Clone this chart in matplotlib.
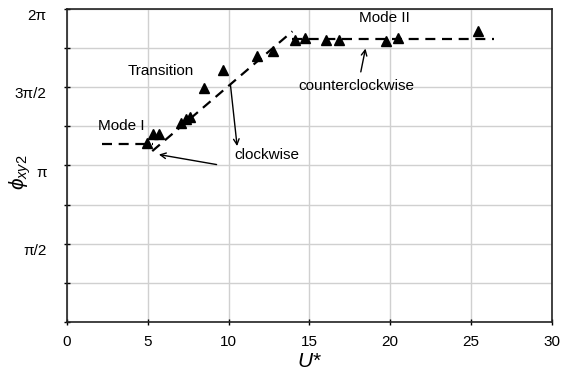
import matplotlib
matplotlib.use('Agg')
import matplotlib.pyplot as plt
import matplotlib.transforms as mtransforms
import numpy as np

plt.rcParams['font.family'] = ['Liberation Sans', 'DejaVu Sans']
plt.rcParams['mathtext.fontset'] = 'custom'
plt.rcParams['mathtext.it'] = 'Liberation Sans:italic'
plt.rcParams['mathtext.rm'] = 'Liberation Sans'

# measured phase difference (in units of pi) against reduced velocity
u_star = [4.97, 5.34, 5.69, 7.03, 7.36, 7.61, 8.51, 9.65, 11.75, 12.72,
          14.12, 14.72, 16.02, 16.84, 19.73, 20.49, 25.4]
phi_pi = [1.145, 1.199, 1.199, 1.274, 1.300, 1.312, 1.497, 1.611, 1.697, 1.729,
          1.803, 1.814, 1.803, 1.803, 1.793, 1.814, 1.857]

# fitted branches (x ends, y ends in units of pi)
mode1_x = [2.2, 5.3]
mode1_y = [1.139, 1.139]
trans_x = [5.28, 13.95]
trans_y = [1.092, 1.857]
mode2_x = [13.95, 26.4]
mode2_y = [1.808, 1.808]

y_ticks = np.arange(0, 9) * np.pi / 4
y_labels = ['', '', 'π/2', '', 'π', '', '3π/2', '', '2π']

fig = plt.figure(figsize=(5.62, 3.74), dpi=100)
ax = fig.add_axes([0.119, 0.139, 0.863, 0.837])

pi = np.pi
ax.plot(u_star, np.array(phi_pi) * pi, '^', color='black', markersize=7, zorder=3)
for xs, ys in [(mode1_x, mode1_y), (trans_x, trans_y), (mode2_x, mode2_y)]:
    ax.plot(xs, np.array(ys) * pi, color='black', lw=1.6, dashes=(4.5, 3), zorder=2)

arrow = dict(arrowstyle='->', color='black', lw=1.0, shrinkA=0, shrinkB=0)
ax.annotate('', xy=(5.69, 1.07 * pi), xytext=(9.26, 1.006 * pi), arrowprops=arrow)
ax.annotate('', xy=(10.53, 1.124 * pi), xytext=(10.12, 1.513 * pi), arrowprops=arrow)
ax.annotate('', xy=(18.47, 1.747 * pi), xytext=(18.18, 1.598 * pi), arrowprops=arrow)

fs = 11
ax.text(1.9, 1.25 * pi, 'Mode I', fontsize=fs, va='center', ha='left')
ax.text(3.77, 1.603 * pi, 'Transition', fontsize=fs, va='center', ha='left')
ax.text(10.33, 1.07 * pi, 'clockwise', fontsize=fs, va='center', ha='left')
ax.text(14.3, 1.506 * pi, 'counterclockwise', fontsize=fs, va='center', ha='left')
ax.text(18.1, 1.942 * pi, 'Mode II', fontsize=fs, va='center', ha='left')

ax.set_xlim(0, 30)
ax.set_ylim(0, 2 * pi)
ax.set_xticks(np.arange(0, 31, 5))
ax.set_yticks(y_ticks)
ax.set_yticklabels(y_labels)
ax.tick_params(labelsize=fs, length=5, width=1, direction='inout', color='black')
ax.tick_params(axis='x', pad=7)
ax.tick_params(axis='y', pad=12)
# y tick labels sit a little below their ticks
shift = mtransforms.ScaledTranslation(0, -4 / 72, fig.dpi_scale_trans)
for lab in ax.get_yticklabels():
    lab.set_transform(lab.get_transform() + shift)
ax.grid(True, color='#d0d0d0', lw=1)
ax.set_axisbelow(True)
for s in ax.spines.values():
    s.set_linewidth(1.2)
    s.set_color('#222222')

ax.set_xlabel('$U$*', fontsize=15, labelpad=2)
ax.set_ylabel(r'$\phi_{xy2}$', fontsize=15)
ax.yaxis.set_label_coords(-0.07, 0.48)

fig.savefig('out.png', dpi=100)
